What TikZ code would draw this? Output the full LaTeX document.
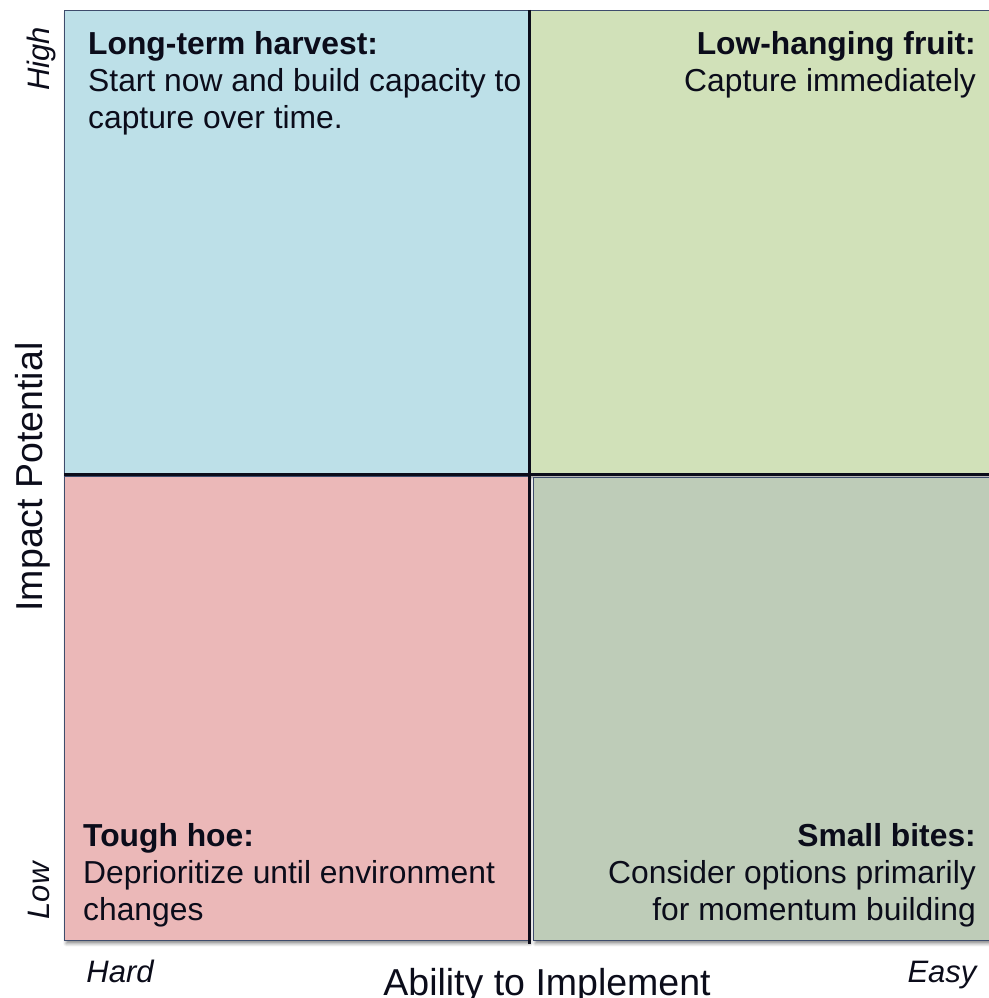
\documentclass[tikz,border=0pt]{standalone}
\usepackage{fontspec}
\setmainfont{Liberation Sans}
\usepackage{xcolor}
\usetikzlibrary{positioning, shadows.blur}

\definecolor{qblue}{HTML}{BDE0E8}
\definecolor{qlime}{HTML}{D1E1B9}
\definecolor{qrose}{HTML}{EBB8B8}
\definecolor{qsage}{HTML}{BECCB8}
\definecolor{qedge}{HTML}{3E4C6C}
\definecolor{ink}{HTML}{0B0C1A}

\begin{document}
\begin{tikzpicture}[
  x=1pt, y=-1pt,
  font=\fontsize{31.8}{37.2}\selectfont,
  quad/.style={draw=qedge, line width=1.2pt, anchor=north west, inner sep=0pt,
               blur shadow={shadow xshift=1.5pt, shadow yshift=-3pt,
                            shadow blur radius=3pt, shadow opacity=45}},
  note/.style={inner sep=0pt, text=ink},
  axislbl/.style={font=\fontsize{37.5}{40}\selectfont, inner sep=0pt, text=ink},
  endlbl/.style={font=\fontsize{31}{34}\selectfont\itshape, inner sep=0pt, text=ink},
  axisline/.style={draw=ink, line width=2.6pt}
]
\useasboundingbox (0,0) rectangle (988,998);

% quadrants
\node[quad, fill=qblue, minimum width=464pt, minimum height=463.5pt] (harvest) at (64,10) {};
\node[quad, fill=qlime, minimum width=463pt, minimum height=463.5pt] (fruit) at (529,10) {};
\node[quad, fill=qrose, minimum width=464pt, minimum height=464pt] (hoe) at (64,476) {};
\node[quad, fill=qsage, minimum width=459pt, minimum height=463pt] (bites) at (533,477) {};

% axes through the middle
\draw[axisline] (harvest.north east) -- ([yshift=-3pt]hoe.south east);
\draw[axisline] (harvest.south west) -- (fruit.south east);

% quadrant texts
\node[note, align=left, anchor=north west] (harvest-t) at (88,31)
     {\textbf{Long-term harvest:}\\Start now and build capacity to\\capture over time.};
\node[note, align=right, anchor=north east] (fruit-t) at (976,31)
     {\textbf{Low-hanging fruit:}\\Capture immediately};
\node[note, align=left, anchor=south west] (hoe-t) at (83,927.5)
     {\textbf{Tough hoe:}\\Deprioritize until environment\\changes};
\node[note, align=right, anchor=south east] (bites-t) at (976,927.5)
     {\textbf{Small bites:}\\Consider options primarily\\for momentum building};

% axis labels
\node[axislbl, rotate=90, anchor=base] (impact) at (42,477) {Impact Potential};
\node[axislbl, anchor=base] (ability) at (547,995) {Ability to Implement};
\node[endlbl, rotate=90, anchor=base] (high) at (49,59) {High};
\node[endlbl, rotate=90, anchor=base] (low) at (49,891) {Low};
\node[endlbl, anchor=base] (hard) at (120,982) {Hard};
\node[endlbl, anchor=base] (easy) at (942,982) {Easy};
\end{tikzpicture}
\end{document}
